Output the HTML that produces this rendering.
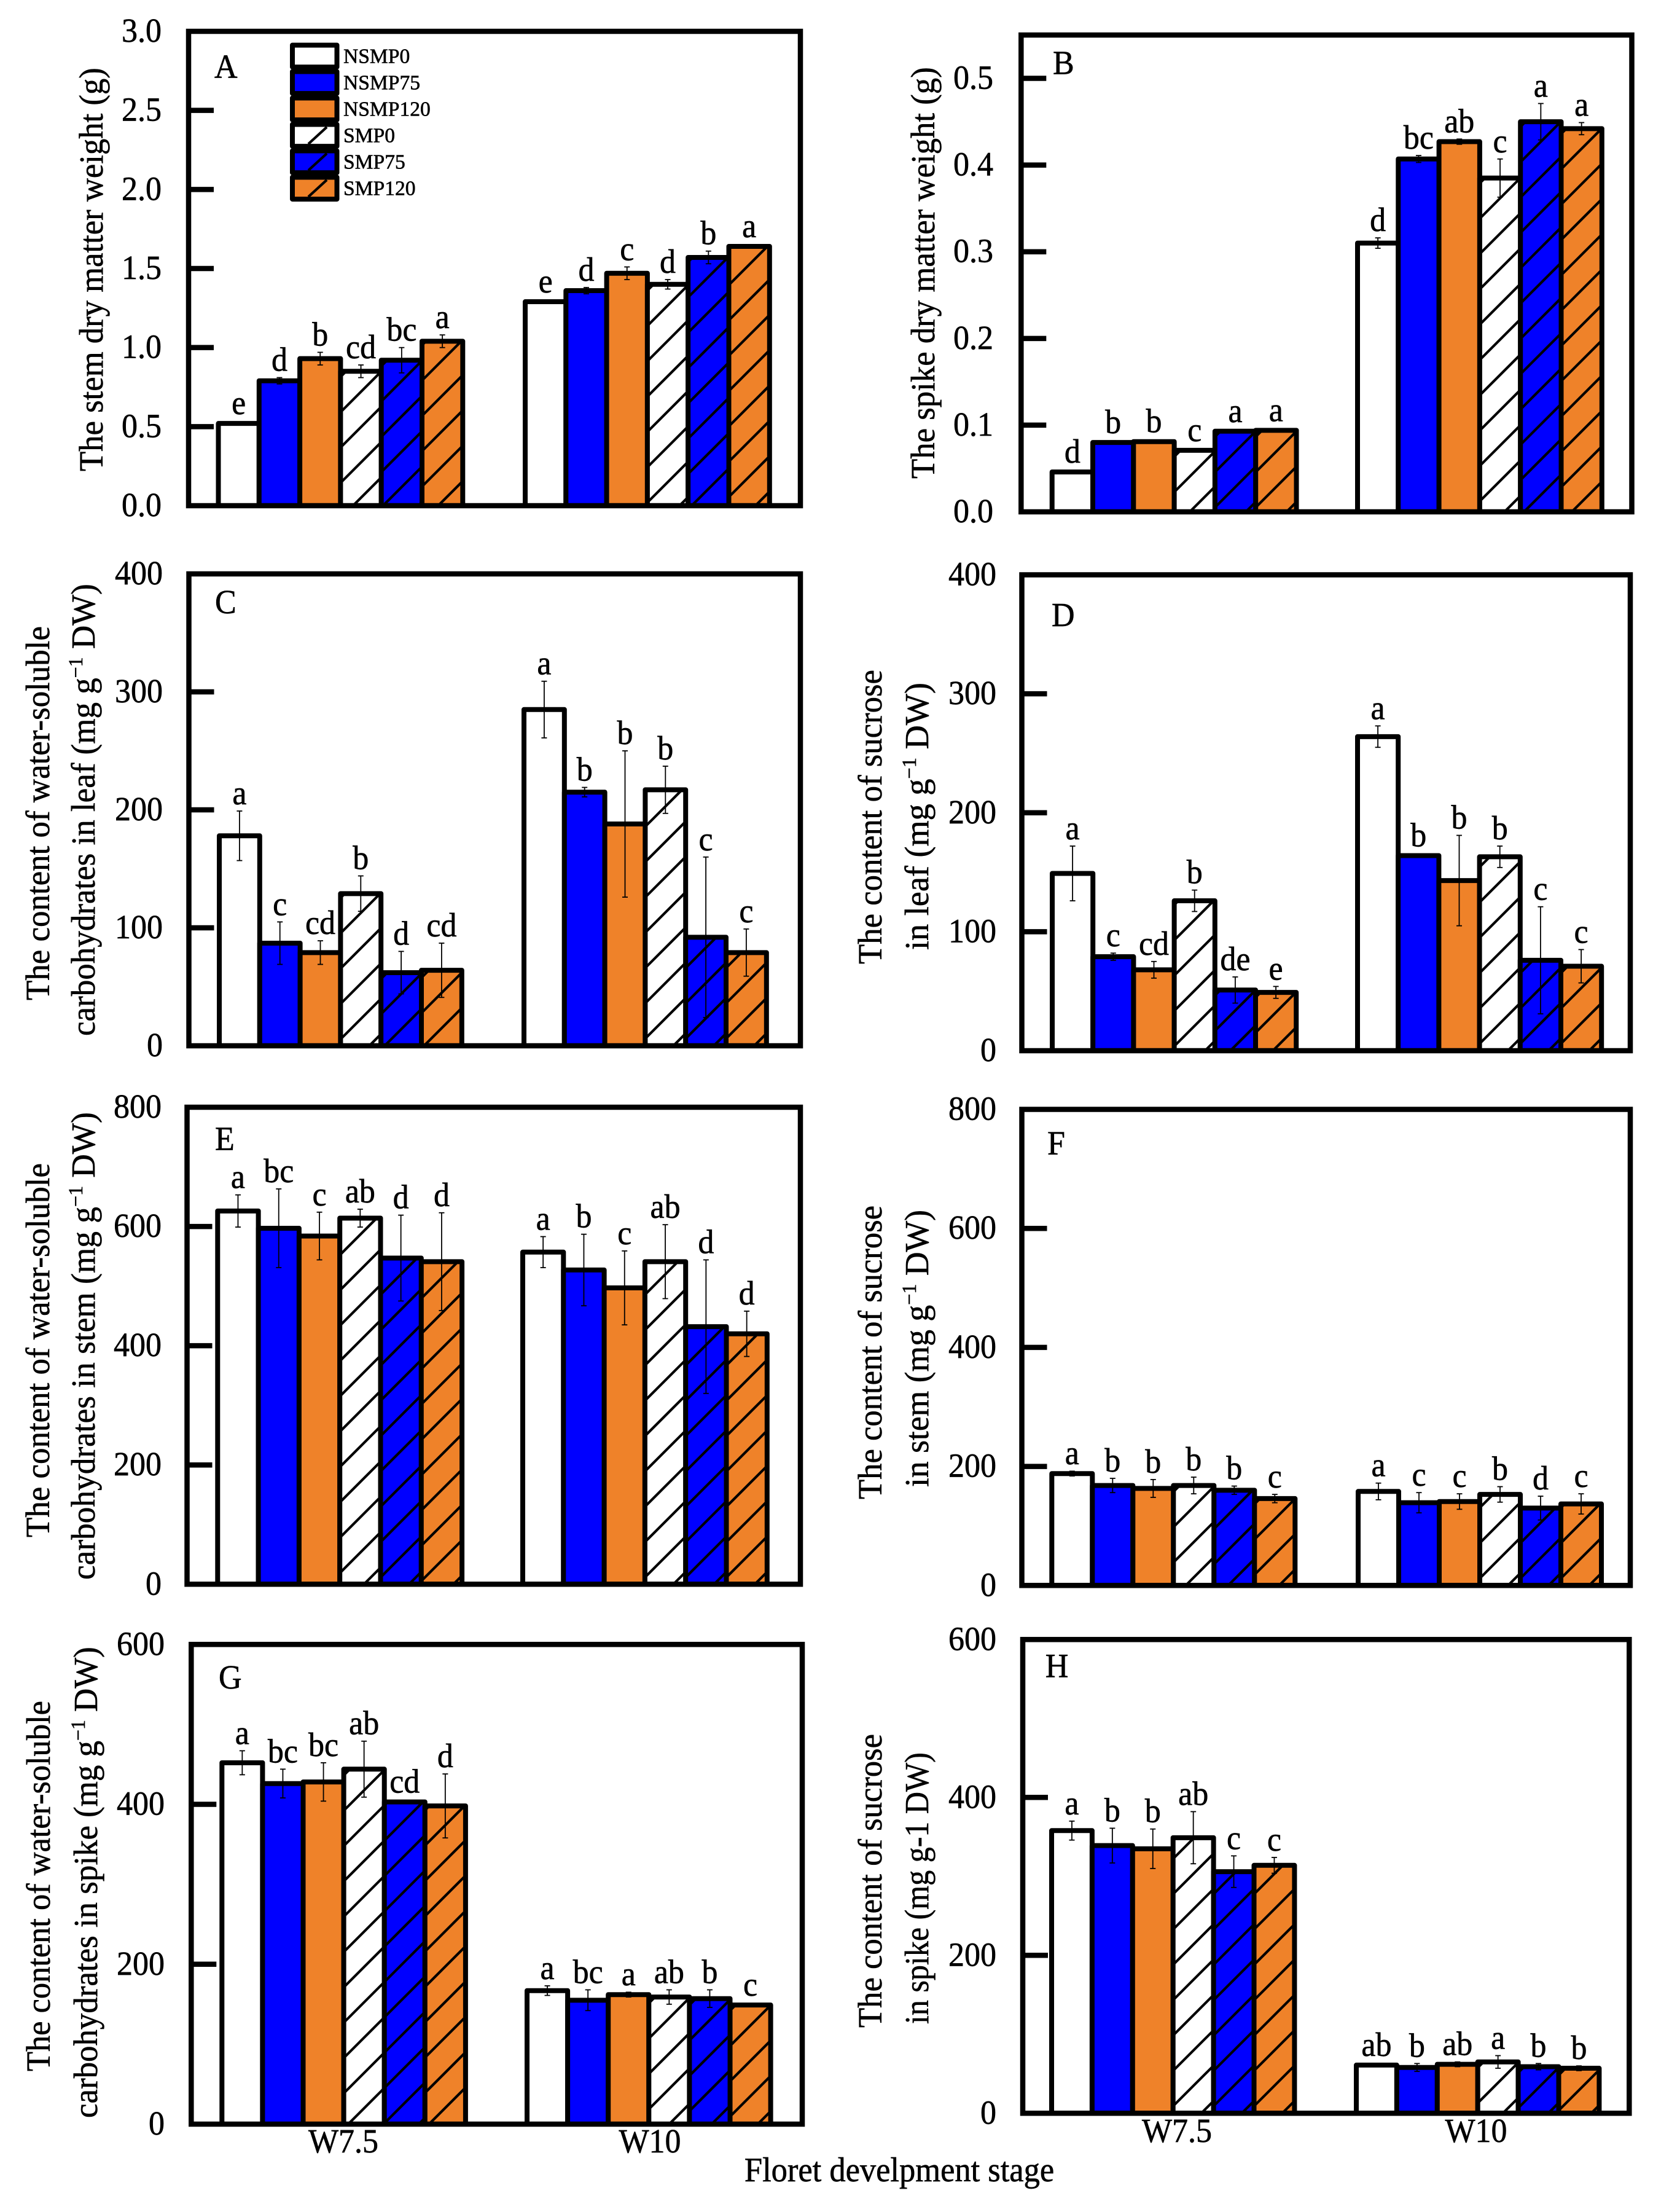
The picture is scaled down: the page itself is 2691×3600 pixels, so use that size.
<!DOCTYPE html>
<html>
<head>
<meta charset="utf-8">
<title>Dry matter and carbohydrate content by floret development stage</title>
<style>
html,body{margin:0;padding:0;background:#fff;}
svg{display:block;font-family:"Liberation Serif",serif;fill:#000;}
text{stroke:#000;stroke-width:.6px;}
</style>
</head>
<body>
<svg id="figure" xmlns="http://www.w3.org/2000/svg" width="2691" height="3600" viewBox="0 0 2691 3600"></svg>
<script>
const categories = ['W7.5', 'W10'];
const seriesNames = ['NSMP0', 'NSMP75', 'NSMP120', 'SMP0', 'SMP75', 'SMP120'];

const ticksA = [0, 0.5, 1, 1.5, 2, 2.5, 3];
const valuesA = [0.52, 0.79, 0.93, 0.85, 0.92, 1.04, 1.29, 1.36, 1.47, 1.40, 1.57, 1.64];
const errorsA = [0, 0.02, 0.04, 0.04, 0.08, 0.04, 0, 0.02, 0.04, 0.03, 0.04, 0];
const lettersA = ['e', 'd', 'b', 'cd', 'bc', 'a', 'e', 'd', 'c', 'd', 'b', 'a'];

const ticksB = [0, 0.1, 0.2, 0.3, 0.4, 0.5];
const valuesB = [0.046, 0.08, 0.081, 0.071, 0.093, 0.094, 0.31, 0.407, 0.427, 0.385, 0.45, 0.442];
const errorsB = [0.001, 0.002, 0, 0, 0, 0, 0.006, 0.004, 0.003, 0.022, 0.021, 0.007];
const lettersB = ['d', 'b', 'b', 'c', 'a', 'a', 'd', 'bc', 'ab', 'c', 'a', 'a'];

const ticksC = [0, 100, 200, 300, 400];
const valuesC = [178, 87, 79, 129, 62, 64, 285, 215, 188, 217, 92, 79];
const errorsC = [21, 18, 10, 15, 18, 23, 24, 4, 62, 20, 68, 20];
const lettersC = ['a', 'c', 'cd', 'b', 'd', 'cd', 'a', 'b', 'b', 'b', 'c', 'c'];

const ticksD = [0, 100, 200, 300, 400];
const valuesD = [149, 79, 68, 126, 51, 49, 264, 164, 143, 163, 76, 71];
const errorsD = [23, 3, 7, 9, 11, 5, 9, 1, 38, 9, 45, 14];
const lettersD = ['a', 'c', 'cd', 'b', 'de', 'e', 'a', 'b', 'b', 'b', 'c', 'c'];

const ticksE = [0, 200, 400, 600, 800];
const valuesE = [626, 597, 584, 614, 547, 541, 557, 527, 497, 541, 432, 420];
const errorsE = [27, 66, 40, 15, 72, 82, 26, 60, 62, 62, 112, 38];
const lettersE = ['a', 'bc', 'c', 'ab', 'd', 'd', 'a', 'b', 'c', 'ab', 'd', 'd'];

const ticksF = [0, 200, 400, 600, 800];
const valuesF = [188, 168, 163, 168, 160, 146, 158, 139, 141, 153, 130, 137];
const errorsF = [4, 12, 15, 14, 7, 7, 14, 17, 13, 13, 20, 17];
const lettersF = ['a', 'b', 'b', 'b', 'b', 'c', 'a', 'c', 'c', 'b', 'd', 'c'];

const ticksG = [0, 200, 400, 600];
const valuesG = [452, 426, 428, 444, 403, 398, 167, 155, 162, 159, 157, 149];
const errorsG = [15, 18, 24, 35, 1, 40, 6, 13, 3, 9, 11, 1];
const lettersG = ['a', 'bc', 'bc', 'ab', 'cd', 'd', 'a', 'bc', 'a', 'ab', 'b', 'c'];

const ticksH = [0, 200, 400, 600];
const valuesH = [358, 339, 335, 349, 306, 314, 61, 58, 62, 65, 59, 57];
const errorsH = [12, 22, 25, 33, 20, 10, 1, 5, 3, 8, 4, 3];
const lettersH = ['a', 'b', 'b', 'ab', 'c', 'c', 'ab', 'b', 'ab', 'a', 'b', 'b'];

const fills = ['#ffffff', '#0000ff', '#ef8229', '#ffffff', '#0000ff', '#ef8229'];
const NS = 'http://www.w3.org/2000/svg';
const svg = document.getElementById('figure');

function make(tag, attrs, parent) {
  const el = document.createElementNS(NS, tag);
  for (const k in attrs) el.setAttribute(k, attrs[k]);
  parent.appendChild(el);
  return el;
}

// Text at (x, y), drawn slightly taller than wide like the source figure.
function tallText(parent, x, y, size, anchor) {
  return make('text', {
    x: 0, y: 0, 'font-size': size, 'text-anchor': anchor,
    transform: 'translate(' + x + ',' + y + ') scale(1,1.06)'
  }, parent);
}

// Rotated y-axis title line fitted to its measured span.
function titleLine(parent, parts, baseX, yBottom, span, name) {
  const t = make('text', {'font-size': 55, 'text-anchor': 'start'}, parent);
  
  
  let raised = false;
  parts.forEach(function (p) {
    const s = make('tspan', {}, t);
    s.textContent = p.text;
    if (p.sup) {
      s.setAttribute('font-size', 33);
      s.setAttribute('dy', -20);
      raised = true;
    } else if (raised) {
      s.setAttribute('dy', 20);
      raised = false;
    }
  });
  t.setAttribute('transform', 'translate(' + baseX + ',' + yBottom + ') rotate(-90)');
  const len = t.getComputedTextLength();
  t.setAttribute('transform', 'translate(' + baseX + ',' + yBottom + ') rotate(-90) scale(' + (span / len) + ',1)');
}

function hatchLines(parent, x0, x1, yTop, yBottom, phase, period, name) {
  const h = yBottom - yTop;
  const w = x1 - x0;
  for (let c = phase - period * 2 - w; c < h; c += period) {
    // line: height above the bar bottom = c + (x - x0)
    let sx = 0;
    if (c < 0) sx = -c;
    let ex = w;
    if (c + ex > h) ex = h - c;
    if (ex <= sx) continue;
    const ln = make('line', {
      x1: x0 + sx, y1: yBottom - (c + sx),
      x2: x0 + ex, y2: yBottom - (c + ex),
      stroke: '#000', 'stroke-width': 4.2
    }, parent);
    
    
  }
}

function drawPanel(p) {
  const g = make('g', {}, svg);
  
  

  function yScale(v) { return p.bottom - (v / p.yMax) * (p.bottom - p.top); }
  function xBar(i) {
    return (i < 6 ? p.g1 + i * p.w : p.g2 + (i - 6) * p.w);
  }

  // bars
  p.values.forEach(function (v, i) {
    const x = xBar(i);
    const top = yScale(v);
    const s = i % 6;
    const rect = make('rect', {x: x, y: top, width: p.w, height: p.bottom - top, fill: fills[s]}, g);
    
    
    if (s >= 3) {
      const phases = p.phase[i < 6 ? 0 : 1];
      hatchLines(g, x, x + p.w, top, p.bottom, phases[s - 3], 57.5, 'bar-hatch-line');
    }
    const outline = make('rect', {x: x, y: top, width: p.w, height: p.bottom - top, fill: 'none', stroke: '#000', 'stroke-width': 8, 'stroke-linejoin': 'round'}, g);
    
    
  });

  // error bars and significance letters
  p.values.forEach(function (v, i) {
    const cx = xBar(i) + p.w / 2;
    const e = p.errors[i];
    const hi = yScale(v + e);
    const lo = yScale(v - e);
    if (e > 0) {
      const stem = make('line', {x1: cx, x2: cx, y1: hi, y2: lo, stroke: '#000', 'stroke-width': 1.8}, g);
      
      
      [hi, lo].forEach(function (yy) {
        const cap = make('line', {x1: cx - 4.5, x2: cx + 4.5, y1: yy, y2: yy, stroke: '#000', 'stroke-width': 1.8}, g);
        
        
      });
    }
    const base = Math.min(yScale(v) - 4, hi) - 11;
    const lab = tallText(g, cx, base, 52, 'middle');
    lab.textContent = p.letters[i];
    
    
  });

  // frame
  const frame = make('rect', {x: p.left, y: p.top, width: p.right - p.left, height: p.bottom - p.top, fill: 'none', stroke: '#000', 'stroke-width': 8.5}, g);
  
  

  // ticks
  p.ticks.forEach(function (t) {
    const y = yScale(t);
    if (t > 0 && t < p.yMax) {
      const tk = make('line', {x1: p.left, x2: p.left + 41, y1: y, y2: y, stroke: '#000', 'stroke-width': 8.5}, g);
      
      
    }
    const lb = tallText(g, p.labelRight, y + 17, 52, 'end');
    lb.textContent = t.toFixed(p.decimals);
    
    
  });

  // panel letter
  const pl = tallText(g, p.tagX, p.tagY, 52, 'start');
  pl.textContent = p.id;
  
  

  // titles
  p.titles.forEach(function (tl) {
    titleLine(g, tl.parts, tl.x, tl.y, tl.span, 'y-axis-title');
  });

  // category labels
  if (p.catLabels) {
    p.catLabels.forEach(function (c, i) {
      const cl = tallText(g, c, p.catY, 52, 'middle');
      cl.textContent = categories[i];
      
      
    });
  }
}

const unit = function (prefix) {
  return [{text: prefix + ' (mg g'}, {text: '\u22121', sup: true}, {text: ' DW)'}];
};

const panels = [
  {id: 'A', left: 307, right: 1303, top: 51, bottom: 823, yMax: 3, decimals: 1, g1: 355.5, g2: 855, w: 66.3,
   ticks: ticksA, values: valuesA, errors: errorsA, letters: lettersA, labelRight: 263, tagX: 349, tagY: 126.7,
   phase: [[46, 6, 40], [14, 3, 23]],
   titles: [{parts: [{text: 'The stem dry matter weight (g)'}], x: 167, y: 767, span: 657}]},
  {id: 'B', left: 1662.3, right: 2656.5, top: 57, bottom: 833, yMax: 0.55, decimals: 1, g1: 1712.7, g2: 2210, w: 66.3,
   ticks: ticksB, values: valuesB, errors: errorsB, letters: lettersB, labelRight: 1617, tagX: 1714, tagY: 120.7,
   phase: [[41, 16, 16], [26, 3, 49]],
   titles: [{parts: [{text: 'The spike dry matter weight (g)'}], x: 1521, y: 779, span: 670}]},
  {id: 'C', left: 307.5, right: 1303, top: 934, bottom: 1702, yMax: 400, decimals: 0, g1: 357, g2: 853, w: 65.8,
   ticks: ticksC, values: valuesC, errors: errorsC, letters: lettersC, labelRight: 265, tagX: 350, tagY: 998,
   phase: [[19, 2.3, 4], [20, 20, 20]],
   titles: [{parts: [{text: 'The content of water-soluble'}], x: 80, y: 1628, span: 609},
            {parts: unit('carbohydrates in leaf'), x: 154, y: 1686, span: 736}]},
  {id: 'D', left: 1663.5, right: 2654, top: 935.5, bottom: 1710, yMax: 400, decimals: 0, g1: 1713, g2: 2210, w: 66.2,
   ticks: ticksD, values: valuesD, errors: errorsD, letters: lettersD, labelRight: 1622, tagX: 1712, tagY: 1019,
   phase: [[16, 41, 38], [20, 20, 20]],
   titles: [{parts: [{text: 'The content of sucrose'}], x: 1435, y: 1569, span: 479},
            {parts: unit('in leaf'), x: 1511, y: 1546, span: 435}]},
  {id: 'E', left: 304.5, right: 1303, top: 1802, bottom: 2578.3, yMax: 800, decimals: 0, g1: 354.3, g2: 851, w: 66.3,
   ticks: ticksE, values: valuesE, errors: errorsE, letters: lettersE, labelRight: 263, tagX: 350, tagY: 1871.7,
   phase: [[27, 20, 14], [20, 20, 20]],
   titles: [{parts: [{text: 'The content of water-soluble'}], x: 80, y: 2502, span: 609},
            {parts: unit('carbohydrates in stem'), x: 154, y: 2571, span: 761}]},
  {id: 'F', left: 1663.5, right: 2654, top: 1805.5, bottom: 2580.3, yMax: 800, decimals: 0, g1: 1712.3, g2: 2211, w: 66,
   ticks: ticksF, values: valuesF, errors: errorsF, letters: lettersF, labelRight: 1622, tagX: 1705, tagY: 1879,
   phase: [[46, 43, 26], [20, 20, 20]],
   titles: [{parts: [{text: 'The content of sucrose'}], x: 1435, y: 2440, span: 478},
            {parts: unit('in stem'), x: 1511, y: 2420, span: 451}]},
  {id: 'G', left: 311.3, right: 1306, top: 2676.3, bottom: 3457, yMax: 600, decimals: 0, g1: 361.3, g2: 858, w: 66.1,
   ticks: ticksG, values: valuesG, errors: errorsG, letters: lettersG, labelRight: 268, tagX: 356, tagY: 2748,
   phase: [[1.3, 10, 2], [33, 30, 21]], catLabels: [559, 1058], catY: 3503,
   titles: [{parts: [{text: 'The content of water-soluble'}], x: 81, y: 3371, span: 603},
            {parts: unit('carbohydrates in spike'), x: 158, y: 3447, span: 767}]},
  {id: 'H', left: 1665, right: 2652.3, top: 2668.3, bottom: 3439.3, yMax: 600, decimals: 0, g1: 1712, g2: 2208, w: 65.9,
   ticks: ticksH, values: valuesH, errors: errorsH, letters: lettersH, labelRight: 1622, tagX: 1701.7, tagY: 2729.3,
   phase: [[20, 20, 20], [25, 17, 13]], catLabels: [1916, 2403], catY: 3486,
   titles: [{parts: [{text: 'The content of sucrose'}], x: 1435, y: 3300, span: 478},
            {parts: [{text: 'in spike (mg g-1 DW)'}], x: 1511, y: 3294, span: 442}]}
];

panels.forEach(drawPanel);

// legend
const legend = make('g', {}, svg);


seriesNames.forEach(function (name, i) {
  const cy = 91.3 + 43 * i;
  const entry = make('g', {}, legend);
  
  
  const sw = make('rect', {x: 476, y: cy - 17.8, width: 72.5, height: 35.6, fill: fills[i]}, entry);
  
  
  if (i >= 3) {
    const hl = make('line', {x1: 502, y1: cy + 14, x2: 532, y2: cy - 13.5, stroke: '#000', 'stroke-width': 4.2}, entry);
    
    
  }
  const so = make('rect', {x: 476, y: cy - 17.8, width: 72.5, height: 35.6, fill: 'none', stroke: '#000', 'stroke-width': 8, 'stroke-linejoin': 'round'}, entry);
  
  
  const tx = make('text', {x: 559, y: cy + 11.4, 'font-size': 33.6}, entry);
  tx.textContent = name;
  
  
});

// shared x-axis title
const xTitle = tallText(svg, 1464, 3550, 52.5, 'middle');
xTitle.textContent = 'Floret develpment stage';


</script>
</body>
</html>
